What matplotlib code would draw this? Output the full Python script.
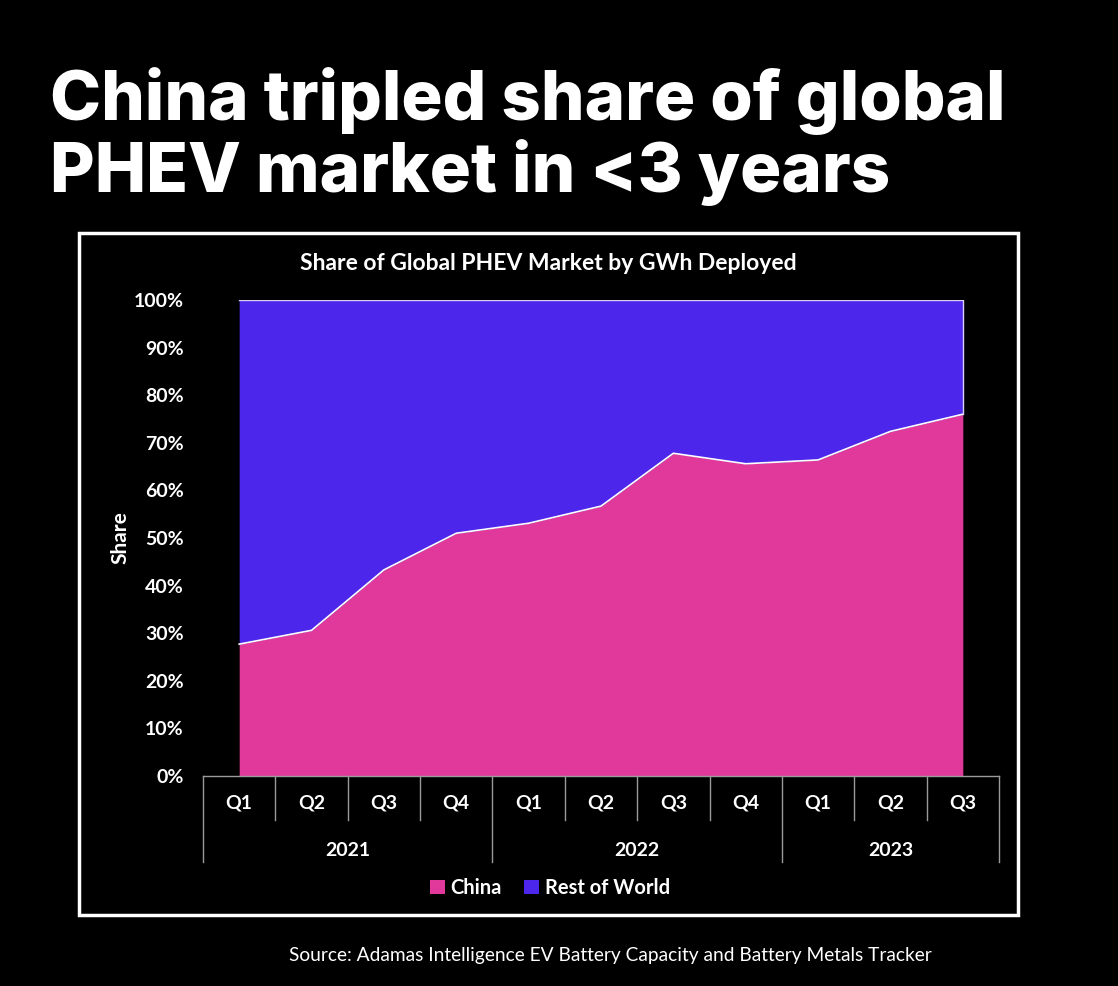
#!/usr/bin/env python3
"""China share of global PHEV market, stacked area chart."""

import matplotlib
matplotlib.use("Agg")
import matplotlib.pyplot as plt
from matplotlib.patches import Rectangle
from matplotlib.lines import Line2D

quarters = ["Q1", "Q2", "Q3", "Q4", "Q1", "Q2", "Q3", "Q4", "Q1", "Q2", "Q3"]
years = ["2021", "2022", "2023"]
year_quarter_counts = [4, 4, 3]
china_share = [27.7, 30.6, 43.3, 51.0, 53.1, 56.7, 67.8, 65.6, 66.4, 72.4, 76.0]
rest_share = [100 - v for v in china_share]

PINK = "#E0389B"
BLUE = "#4C26EB"
FONT = "Lato"
W, H = 1118, 986


def main():
    fig = plt.figure(figsize=(W / 100, H / 100), dpi=100, facecolor="black")

    # headline
    fig.text(50 / W, 1 - 101 / H, "China tripled share of global", color="white",
             fontsize=49.5, fontweight="heavy", family="Inter", va="center", ha="left")
    fig.text(50 / W, 1 - 172 / H, "PHEV market in <3 years", color="white",
             fontsize=49.5, fontweight="heavy", family="Inter", va="center", ha="left")

    # white frame around chart
    fig.patches.append(Rectangle((79 / W, 1 - 915 / H), (1018 - 79) / W, (915 - 233) / H,
                                 transform=fig.transFigure, fill=False,
                                 edgecolor="white", linewidth=2.5))

    fig.text(548 / W, 1 - 263 / H, "Share of Global PHEV Market by GWh Deployed",
             color="white", fontsize=16.5, fontweight="bold", family=FONT,
             ha="center", va="center")

    left, right, top, bottom = 203, 999, 300, 776
    ax = fig.add_axes([left / W, 1 - bottom / H, (right - left) / W, (bottom - top) / H])
    ax.set_facecolor("black")

    x = list(range(len(quarters)))
    total = [c + r for c, r in zip(china_share, rest_share)]
    ax.fill_between(x, 0, china_share, color=PINK, linewidth=0, label="China")
    ax.fill_between(x, china_share, total, color=BLUE, linewidth=0, label="Rest of World")
    ax.plot(x, china_share, color="white", linewidth=1.2)
    ax.plot([0, 10, 10], [100, 100, china_share[-1]], color="#d8d0f5", linewidth=1)

    ax.set_xlim(-0.5, len(quarters) - 0.5)
    ax.set_ylim(0, 100)
    ax.set_yticks(range(0, 101, 10))
    ax.set_yticklabels([f"{v}%" for v in range(0, 101, 10)])
    ax.tick_params(axis="y", length=0, pad=14, colors="white", labelsize=14)
    for lab in ax.get_yticklabels():
        lab.set_fontweight("bold")
        lab.set_family(FONT)
    ax.set_xticks([])
    for s in ax.spines.values():
        s.set_visible(False)

    ax.set_ylabel("Share", color="white", fontsize=15, fontweight="bold",
                  family=FONT, labelpad=2)

    # multi-level category axis
    trans = ax.get_xaxis_transform()
    gray = "#9a9a9a"
    ax.add_line(Line2D([-0.5, len(quarters) - 0.5], [0, 0], transform=trans,
                       color=gray, linewidth=1, clip_on=False))
    q_depth = -(820 - 776) / (bottom - top)
    y_depth = -(862 - 776) / (bottom - top)
    bounds = [-0.5]
    for n in year_quarter_counts:
        bounds.append(bounds[-1] + n)
    for i in range(len(quarters) + 1):
        xb = i - 0.5
        d = y_depth if xb in bounds else q_depth
        ax.add_line(Line2D([xb, xb], [0, d], transform=trans, color=gray,
                           linewidth=1, clip_on=False))
    for i, q in enumerate(quarters):
        ax.text(i, -(803 - 776) / (bottom - top), q, transform=trans, color="white",
                fontsize=14, fontweight="bold", family=FONT, ha="center", va="center")
    for j, yr in enumerate(years):
        ax.text((bounds[j] + bounds[j + 1]) / 2, -(850 - 776) / (bottom - top), yr,
                transform=trans, color="white", fontsize=14, fontweight="bold",
                family=FONT, ha="center", va="center")

    leg = fig.legend(loc="center", bbox_to_anchor=(550 / W, 1 - 888 / H), ncol=2,
                     frameon=False, handlelength=0.75, handleheight=0.75,
                     handletextpad=0.3, columnspacing=1.1,
                     prop={"family": FONT, "weight": "bold", "size": 14.5})
    for t in leg.get_texts():
        t.set_color("white")

    fig.text(610 / W, 1 - 955 / H,
             "Source: Adamas Intelligence EV Battery Capacity and Battery Metals Tracker",
             color="white", fontsize=13.8, family=FONT, ha="center", va="center")

    fig.savefig("out.png", dpi=100, facecolor="black")


if __name__ == "__main__":
    main()
